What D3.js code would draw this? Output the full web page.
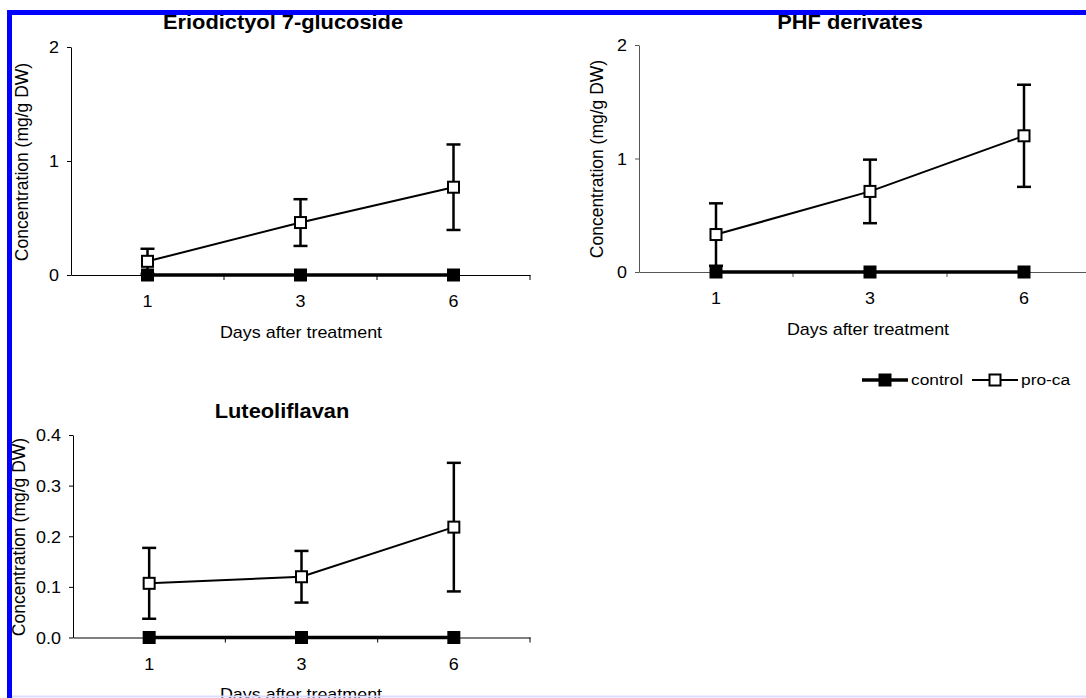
<!DOCTYPE html>
<html>
<head>
<meta charset="utf-8">
<script src="https://cdn.jsdelivr.net/npm/d3@7"></script>
<style>
  body { margin: 0; background: #fff; }
  svg { display: block; font-family: "Liberation Sans", Arial, sans-serif; }
</style>
</head>
<body>
<div id="chartEl"></div>
<script>
const days = ['1', '3', '6'];

const eriodictyolControl = [0, 0, 0];
const eriodictyolProca = [0.12, 0.46, 0.77];
const eriodictyolErr = [0.11, 0.205, 0.375];

const phfControl = [0, 0, 0];
const phfProca = [0.33, 0.71, 1.20];
const phfErr = [0.275, 0.28, 0.45];

const luteoControl = [0, 0, 0];
const luteoProca = [0.107, 0.12, 0.218];
const luteoErr = [0.07, 0.051, 0.127];

const ticksWide = [0, 1, 2];
const ticksLuteo = [0, 0.1, 0.2, 0.3, 0.4];

const seriesNames = ['control', 'pro-ca'];
const xLabel = 'Days after treatment';
const yLabel = 'Concentration (mg/g DW)';

const width = 1086;
const height = 698;
const sx = 1.12; // the picture is a bit wider than its fonts

const svg = d3.select('#chartEl').append('svg')
  .attr('width', width)
  .attr('height', height);

// stretched text helper
function label (g, x, y, txt, size, anchor, weight) {
  return g.append('text')
    .attr('transform', 'translate(' + x + ',' + y + ') scale(' + sx + ',1)')
    .attr('text-anchor', anchor)
    .attr('font-size', size)
    .attr('font-weight', weight || 'normal')
    .attr('fill', '#000')
    .text(txt);
}

const panels = [
  {title: 'Eriodictyol 7-glucoside', control: eriodictyolControl, proca: eriodictyolProca, err: eriodictyolErr,
    ticks: ticksWide, fmt: d3.format('d'), left: 71, right: 530, bottom: 275, top: 47,
    titleX: 283, titleY: 29, yLabX: 28, yLabY: 162, xLabX: 301, xLabY: 338, axisColor: '#000'},
  {title: 'PHF derivates', control: phfControl, proca: phfProca, err: phfErr,
    ticks: ticksWide, fmt: d3.format('d'), left: 639, right: 1101, bottom: 272, top: 45,
    titleX: 850, titleY: 29, yLabX: 603, yLabY: 159, xLabX: 868, xLabY: 335, axisColor: '#555'},
  {title: 'Luteoliflavan', control: luteoControl, proca: luteoProca, err: luteoErr,
    ticks: ticksLuteo, fmt: d3.format('.1f'), left: 73, right: 530, bottom: 637.5, top: 435,
    titleX: 282, titleY: 418, yLabX: 25, yLabY: 537, xLabX: 301, xLabY: 700, axisColor: '#000'}
];

panels.forEach(p => {
  const g = svg.append('g');

  const x = d3.scaleBand()
    .domain(days)
    .range([p.left, p.right])
    .padding(0);
  const cx = d => x(d) + x.bandwidth() / 2;

  const y = d3.scaleLinear()
    .domain([0, d3.max(p.ticks)])
    .range([p.bottom, p.top]);

  // y axis
  const yAxis = g.append('g')
    .attr('transform', 'translate(' + p.left + ',0)')
    .call(d3.axisLeft(y).tickValues(p.ticks).tickFormat(p.fmt).tickSize(4).tickSizeOuter(0))
    .attr('font-family', null)
    .attr('font-size', null);
  yAxis.select('.domain').attr('stroke', p.axisColor);
  yAxis.selectAll('.tick line').attr('stroke', p.axisColor);
  yAxis.selectAll('.tick text')
    .attr('x', null)
    .attr('dy', '0.36em')
    .attr('font-size', 16)
    .attr('transform', 'translate(-12,0) scale(' + sx + ',1)');

  // x axis, labels in the middle of each day, ticks between days
  const xAxis = g.append('g')
    .attr('transform', 'translate(0,' + p.bottom + ')')
    .call(d3.axisBottom(x).tickSize(0).tickSizeOuter(0))
    .attr('font-family', null)
    .attr('font-size', null);
  xAxis.select('.domain').attr('stroke', p.axisColor);
  xAxis.selectAll('.tick text')
    .attr('y', null)
    .attr('dy', null)
    .attr('font-size', 16)
    .attr('transform', 'translate(0,32) scale(' + sx + ',1)');
  xAxis.selectAll('.sep')
    .data(days)
    .enter().append('line')
    .attr('class', 'sep')
    .attr('x1', d => x(d) + x.bandwidth())
    .attr('x2', d => x(d) + x.bandwidth())
    .attr('y1', 0)
    .attr('y2', 5)
    .attr('stroke', p.axisColor);

  // titles
  label(g, p.titleX, p.titleY, p.title, 19.5, 'middle', 'bold');
  label(g, p.xLabX, p.xLabY, xLabel, 16, 'middle');
  g.append('text')
    .attr('transform', 'translate(' + p.yLabX + ',' + p.yLabY + ') rotate(-90)')
    .attr('text-anchor', 'middle')
    .attr('font-size', 17.5)
    .text(yLabel);

  const line = d3.line()
    .x((d, i) => cx(days[i]))
    .y(d => y(d));

  // control
  g.append('path')
    .datum(p.control)
    .attr('d', line)
    .attr('fill', 'none')
    .attr('stroke', '#000')
    .attr('stroke-width', 3.5);
  g.selectAll('.ctl')
    .data(p.control)
    .enter().append('rect')
    .attr('class', 'ctl')
    .attr('x', (d, i) => cx(days[i]) - 6.5)
    .attr('y', d => y(d) - 6.5)
    .attr('width', 13)
    .attr('height', 13)
    .attr('fill', '#000');

  // pro-ca error bars
  const eb = g.selectAll('.eb')
    .data(p.proca)
    .enter().append('g')
    .attr('class', 'eb')
    .attr('stroke', '#000')
    .attr('stroke-width', 2.5);
  eb.append('line')
    .attr('x1', (d, i) => cx(days[i]))
    .attr('x2', (d, i) => cx(days[i]))
    .attr('y1', (d, i) => y(d + p.err[i]))
    .attr('y2', (d, i) => y(d - p.err[i]));
  eb.append('line')
    .attr('x1', (d, i) => cx(days[i]) - 7)
    .attr('x2', (d, i) => cx(days[i]) + 7)
    .attr('y1', (d, i) => y(d + p.err[i]))
    .attr('y2', (d, i) => y(d + p.err[i]));
  eb.append('line')
    .attr('x1', (d, i) => cx(days[i]) - 7)
    .attr('x2', (d, i) => cx(days[i]) + 7)
    .attr('y1', (d, i) => y(d - p.err[i]))
    .attr('y2', (d, i) => y(d - p.err[i]));

  // pro-ca
  g.append('path')
    .datum(p.proca)
    .attr('d', line)
    .attr('fill', 'none')
    .attr('stroke', '#000')
    .attr('stroke-width', 2);
  g.selectAll('.pro')
    .data(p.proca)
    .enter().append('rect')
    .attr('class', 'pro')
    .attr('x', (d, i) => cx(days[i]) - 5.5)
    .attr('y', d => y(d) - 5.5)
    .attr('width', 11)
    .attr('height', 11)
    .attr('fill', '#fff')
    .attr('stroke', '#000')
    .attr('stroke-width', 2);
});

// legend
const legendY = 380;
const legend = svg.append('g');
const items = [{name: seriesNames[0], x: 862, filled: true}, {name: seriesNames[1], x: 972, filled: false}];
items.forEach(it => {
  legend.append('line')
    .attr('x1', it.x).attr('x2', it.x + 46)
    .attr('y1', legendY).attr('y2', legendY)
    .attr('stroke', '#000')
    .attr('stroke-width', it.filled ? 3.5 : 2);
  legend.append('rect')
    .attr('x', it.x + 23 - (it.filled ? 6.5 : 5.5))
    .attr('y', legendY - (it.filled ? 6.5 : 5.5))
    .attr('width', it.filled ? 13 : 11)
    .attr('height', it.filled ? 13 : 11)
    .attr('fill', it.filled ? '#000' : '#fff')
    .attr('stroke', it.filled ? 'none' : '#000')
    .attr('stroke-width', 2);
  label(legend, it.x + 49, legendY + 5, it.name, 15.5, 'start');
});

// frame on top
svg.append('rect')
  .attr('x', 12).attr('y', 695.5)
  .attr('width', width - 12).attr('height', 2)
  .attr('fill', '#dcdcff');
svg.append('rect')
  .attr('x', 7).attr('y', 10)
  .attr('width', 5).attr('height', height - 10)
  .attr('fill', '#0000ff');
svg.append('rect')
  .attr('x', 7).attr('y', 10)
  .attr('width', width - 7).attr('height', 5)
  .attr('fill', '#0000ff');
</script>
</body>
</html>
